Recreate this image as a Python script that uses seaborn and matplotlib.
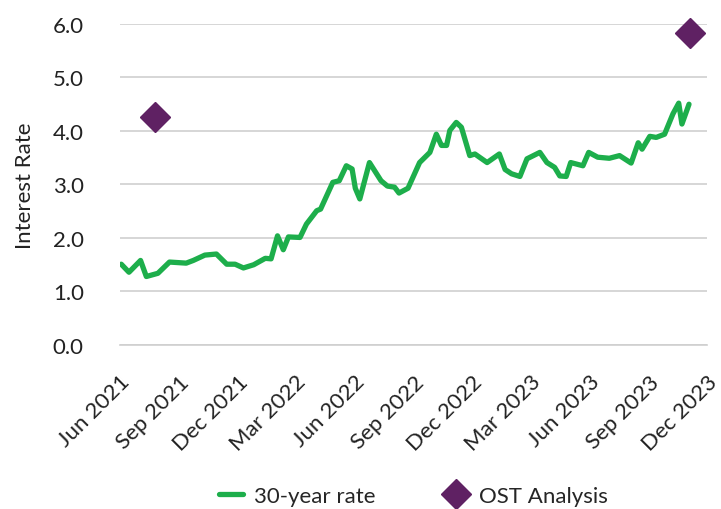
import numpy as np
import pandas as pd
import matplotlib.pyplot as plt
import matplotlib.dates as mdates
import seaborn as sns

# 30-year rate
rate_dates = [
    "2021-06-03", "2021-06-15", "2021-07-03", "2021-07-12", "2021-07-30", "2021-08-17",
    "2021-09-12", "2021-09-23", "2021-10-11", "2021-10-29", "2021-11-14", "2021-11-27",
    "2021-12-10", "2021-12-26", "2022-01-13", "2022-01-22", "2022-02-01", "2022-02-10",
    "2022-02-18", "2022-03-08", "2022-03-18", "2022-04-03", "2022-04-09", "2022-04-28",
    "2022-05-08", "2022-05-19", "2022-05-28", "2022-06-02", "2022-06-09", "2022-06-24",
    "2022-07-12", "2022-07-22", "2022-08-02", "2022-08-09", "2022-08-23", "2022-09-10",
    "2022-09-26", "2022-10-06", "2022-10-14", "2022-10-22", "2022-10-27", "2022-11-06",
    "2022-11-14", "2022-11-27", "2022-12-05", "2022-12-24", "2023-01-12", "2023-01-21",
    "2023-01-31", "2023-02-13", "2023-02-24", "2023-03-16", "2023-03-27", "2023-04-08",
    "2023-04-16", "2023-04-26", "2023-05-03", "2023-05-22", "2023-05-31", "2023-06-14",
    "2023-07-02", "2023-07-18", "2023-08-05", "2023-08-16", "2023-08-22", "2023-09-03",
    "2023-09-13", "2023-09-26", "2023-10-09", "2023-10-18", "2023-10-23", "2023-11-03",
]
rate_values = [
    1.51, 1.36, 1.58, 1.28, 1.34, 1.55,
    1.53, 1.58, 1.68, 1.70, 1.51, 1.51,
    1.44, 1.50, 1.62, 1.61, 2.04, 1.78,
    2.02, 2.01, 2.26, 2.51, 2.54, 3.04,
    3.07, 3.35, 3.29, 2.93, 2.73, 3.41,
    3.07, 2.97, 2.95, 2.84, 2.93, 3.41,
    3.60, 3.94, 3.73, 3.73, 4.01, 4.16,
    4.07, 3.54, 3.57, 3.41, 3.57, 3.28,
    3.20, 3.15, 3.48, 3.60, 3.41, 3.32,
    3.16, 3.15, 3.41, 3.35, 3.60, 3.51,
    3.49, 3.54, 3.40, 3.78, 3.66, 3.90,
    3.88, 3.94, 4.32, 4.52, 4.13, 4.50,
]

# OST Analysis points
ost_dates = ["2021-07-25", "2023-11-04"]
ost_values = [4.27, 5.84]

tick_dates = pd.date_range("2021-06-01", "2023-12-01", freq="3MS")
y_ticks = [0.0, 1.0, 2.0, 3.0, 4.0, 5.0, 6.0]

rate_df = pd.DataFrame({"date": pd.to_datetime(rate_dates), "rate": rate_values})
ost_df = pd.DataFrame({"date": pd.to_datetime(ost_dates), "rate": ost_values})

sns.set_style("white")
plt.rcParams["font.family"] = ["Lato", "DejaVu Sans"]

green = "#1DAE4B"
purple = "#5F2163"
grid_gray = "#CFCFCF"
text_color = "#222222"
fs = 16

fig = plt.figure(figsize=(7.21, 5.10), dpi=100)
ax = fig.add_axes([0.1664, 0.3216, 0.8142, 0.6294])

sns.lineplot(data=rate_df, x="date", y="rate", ax=ax, color=green,
             linewidth=3.8, label="30-year rate")
ax.plot(ost_df["date"], ost_df["rate"], linestyle="none", marker="D",
        markersize=15, color=purple, label="OST Analysis", clip_on=False, zorder=5)

ax.set_ylim(0, 6)
ax.set_yticks(y_ticks)
ax.set_yticklabels([f"{v:.1f}" for v in y_ticks], fontsize=fs)
ax.set_xlim(tick_dates[0], tick_dates[-1])
ax.set_xticks(tick_dates)
ax.xaxis.set_major_formatter(mdates.DateFormatter("%b %Y"))
for lbl in ax.get_xticklabels():
    lbl.set_rotation(45)
    lbl.set_ha("right")
    lbl.set_rotation_mode("anchor")
    lbl.set_fontsize(fs)

ax.yaxis.grid(True, color=grid_gray, linewidth=1.2)
ax.set_axisbelow(True)
for side in ["left", "right", "top"]:
    ax.spines[side].set_visible(False)
ax.spines["bottom"].set_color(grid_gray)
ax.spines["bottom"].set_linewidth(1.2)
ax.tick_params(axis="x", which="major", length=16, width=1.2, color=grid_gray,
               direction="out", pad=3, labelcolor=text_color)
ax.tick_params(axis="y", length=0, pad=26, labelcolor=text_color)

ax.set_xlabel("")
ax.set_ylabel("Interest Rate", fontsize=fs, color=text_color, labelpad=13)

ax.legend(loc="center", bbox_to_anchor=(0.5, -0.47), ncol=2, frameon=False,
          fontsize=fs, handlelength=1.05, columnspacing=3.1, handletextpad=0.5)

fig.savefig("out.png", dpi=100)
